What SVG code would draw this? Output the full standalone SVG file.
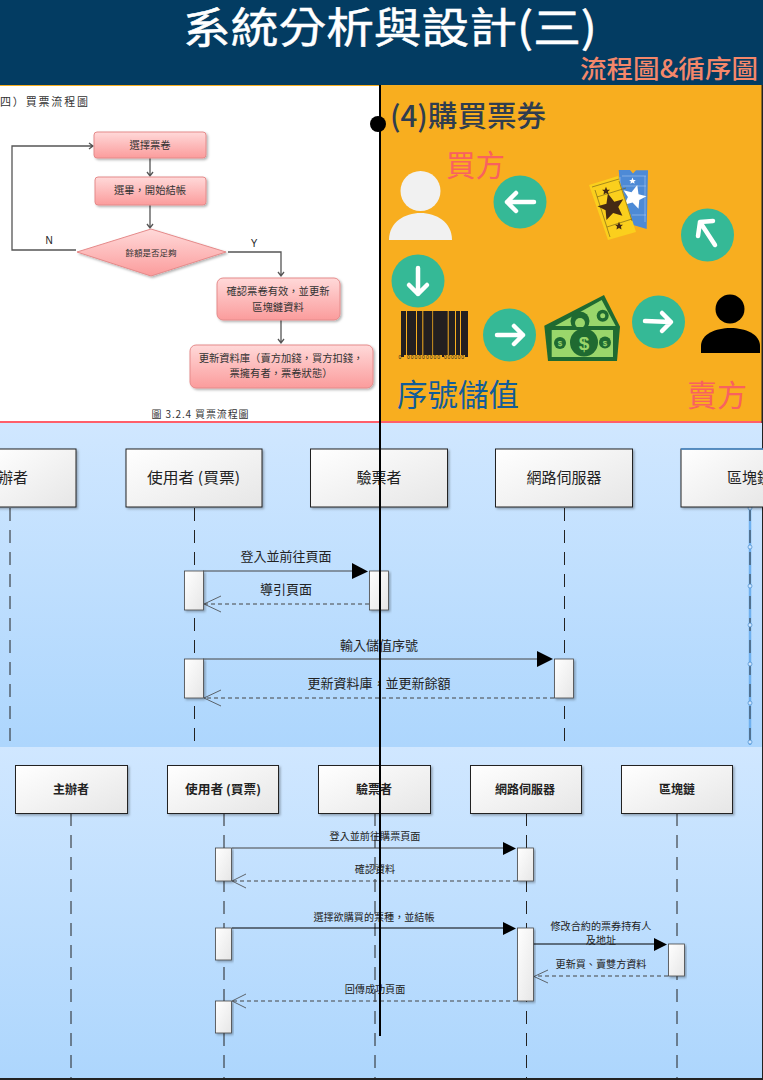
<svg xmlns="http://www.w3.org/2000/svg" width="763" height="1080" viewBox="0 0 763 1080">
<style>
text{font-family:"Liberation Sans","Noto Sans CJK TC",sans-serif}
.cjk{font-family:"Noto Sans CJK TC",sans-serif}
.m{text-anchor:middle}
.ft{font-size:10.300px;fill:#333;text-anchor:middle;font-family:"Noto Sans CJK TC",sans-serif}
.fb{fill:url(#pink);stroke:#e58a8a;stroke-width:1;filter:url(#sh)}
.fl{fill:none;stroke:#555;stroke-width:1.300}
.actor{fill:url(#boxg);stroke:#222;stroke-width:1;filter:url(#sh)}
.a1{font-size:15px;fill:#222;text-anchor:middle;font-family:"Noto Sans CJK TC",sans-serif}
.a2{font-size:12px;font-weight:700;fill:#222;text-anchor:middle;font-family:"Noto Sans CJK TC",sans-serif}
.life{stroke:#222;stroke-width:1;stroke-dasharray:13 9;fill:none}
.act{fill:url(#boxg);stroke:#444;stroke-width:.8;filter:url(#sh)}
.msg{stroke:#444;stroke-width:1;fill:none}
.ret{stroke:#444;stroke-width:1;stroke-dasharray:4 3;fill:none}
.open{stroke:#444;stroke-width:.8;fill:none}
.l1{font-size:13px;fill:#222;text-anchor:middle;font-family:"Noto Sans CJK TC",sans-serif}
.l2{font-size:10.100px;fill:#222;text-anchor:middle;font-family:"Noto Sans CJK TC",sans-serif}
.c{fill:#35b996}
.w{fill:none;stroke:#fff;stroke-width:4.500;stroke-linecap:round;stroke-linejoin:round}
</style>
<defs>
<linearGradient id="pink" x1="0" y1="0" x2="0" y2="1"><stop offset="0" stop-color="#ffd9d9"/><stop offset="1" stop-color="#fb9c9c"/></linearGradient>
<linearGradient id="bg" x1="0" y1="0" x2="0" y2="1"><stop offset="0" stop-color="#d0e7ff"/><stop offset="1" stop-color="#add6fd"/></linearGradient>
<linearGradient id="boxg" x1="0" y1="0" x2="1" y2="1"><stop offset="0" stop-color="#ffffff"/><stop offset="1" stop-color="#e6e6e6"/></linearGradient>
<filter id="sh" x="-10%" y="-10%" width="125%" height="130%"><feDropShadow dx="1.500" dy="1.500" stdDeviation="1.200" flood-color="#000" flood-opacity=".3"/></filter>
<polygon id="star" points="0,-10 2.900,-3.100 9.500,-3.100 4.700,1.200 5.900,8.100 0,4.500 -5.900,8.100 -4.700,1.200 -9.500,-3.100 -2.900,-3.100"/>
</defs>

<rect width="763" height="1080" fill="#fff"/>
<rect id="header" width="763" height="85" fill="#033c62"/>
<text x="390" y="43" class="m cjk" font-size="42" fill="#fff" stroke="#fff" stroke-width=".5" textLength="414" lengthAdjust="spacingAndGlyphs">系統分析與設計(三)</text>
<text x="669" y="78" class="m cjk" font-size="25" font-weight="500" fill="#f4876a" textLength="178" lengthAdjust="spacingAndGlyphs">流程圖&amp;循序圖</text>

<!-- flowchart panel -->
<rect x="0" y="85" width="380" height="336" fill="#fff"/>
<rect x="0" y="85" width="380" height="1" fill="#f8ae1f"/>
<text x="0" y="106" font-size="11" fill="#333" class="cjk" textLength="88" lengthAdjust="spacing">四）買票流程圖</text>
<g id="flow-connectors">
<path class="fl" d="M76 250H12V146H93M89 143l4 3-4 3"/>
<path class="fl" d="M150 158V176M147 172l3 4 3-4"/>
<path class="fl" d="M150 205V228M147 224l3 4 3-4"/>
<path class="fl" d="M228 252H281V276M278 272l3 4 3-4"/>
<path class="fl" d="M281 320V343M278 339l3 4 3-4"/>
</g>
<text x="49" y="244" font-size="10" fill="#222" class="m">N</text>
<text x="254" y="247" font-size="10" fill="#222" class="m">Y</text>
<g id="f1"><rect class="fb" x="94" y="132" width="112" height="26" rx="3"/><text class="ft" x="150" y="149">選擇票卷</text></g>
<g id="f2"><rect class="fb" x="95" y="177" width="111" height="28" rx="3"/><text class="ft" x="150" y="194">選畢，開始結帳</text></g>
<g id="f3"><polygon class="fb" points="77,252 151,229 226,252 151,276"/><text class="ft" x="151" y="256" style="font-size:8.500px">餘額是否足夠</text></g>
<g id="f4"><rect class="fb" x="217" y="278" width="123" height="42" rx="6"/><text class="ft" x="278" y="295">確認票卷有效，並更新</text><text class="ft" x="278" y="311">區塊鏈資料</text></g>
<g id="f5"><rect class="fb" x="190" y="345" width="183" height="43" rx="6"/><text class="ft" x="281" y="362">更新資料庫（賣方加錢，買方扣錢，</text><text class="ft" x="281" y="377">票擁有者，票卷狀態）</text></g>
<text x="200" y="418" font-size="10" fill="#333" class="m cjk" textLength="97" lengthAdjust="spacing">圖 3.2.4 買票流程圖</text>

<!-- orange panel -->
<rect x="381" y="85" width="381" height="336" fill="#f8ae1f"/>
<text x="390" y="127" font-size="29" fill="#2f3d4f" class="cjk" font-weight="500" textLength="156" lengthAdjust="spacingAndGlyphs">(4)購買票券</text>
<text x="446" y="176" font-size="29.500" fill="#f9615f" class="cjk">買方</text>
<text x="687" y="406" font-size="30" fill="#f9615f" class="cjk">賣方</text>
<text x="397" y="406" font-size="30.500" fill="#125d99" class="cjk">序號儲值</text>

<g id="buyer" fill="#f1f1f1"><circle cx="420.500" cy="191" r="20"/><path d="M389 240C389 204 452 204 452 240Z"/></g>
<g id="seller" fill="#000"><circle cx="730" cy="309" r="14.500"/><path d="M701 353V346C701 322 760 322 760 346V353Z"/></g>

<g id="arrow1"><circle class="c" cx="520" cy="202" r="26.500"/><path class="w" d="M534 202H507M516 193l-9 9 9 9"/></g>
<g id="arrow2"><circle class="c" cx="707.500" cy="235" r="26.500"/><path class="w" d="M715 245L700 222M698 236l2-14 13-1"/></g>
<g id="arrow3"><circle class="c" cx="418" cy="281" r="26.500"/><path class="w" d="M418 268V294M409 285l9 9 9-9"/></g>
<g id="arrow4"><circle class="c" cx="509.500" cy="335" r="26.500"/><path class="w" d="M497 335H523M514 326l9 9-9 9"/></g>
<g id="arrow5"><circle class="c" cx="658.500" cy="322" r="26.500"/><path class="w" d="M645 321L671 322M662 313l9 9-9 9"/></g>

<g id="barcode">
<rect x="401" y="311" width="67" height="44" fill="#231f20"/>
<rect x="401" y="355" width="3" height="2" fill="#231f20"/><rect x="442" y="355" width="2" height="2" fill="#231f20"/><rect x="465" y="355" width="3" height="2" fill="#231f20"/>
<g fill="#f8ae1f"><rect x="406" y="311" width="1" height="46"/><rect x="416" y="311" width="1" height="46"/><rect x="422.300" y="311" width="1" height="46"/><rect x="432.300" y="311" width=".8" height="46"/><rect x="447.700" y="311" width="1" height="46"/><rect x="455" y="311" width="1" height="46"/><rect x="460" y="311" width="1" height="46"/></g>
<text y="359" font-size="5" fill="#231f20" font-family="Liberation Sans"><tspan x="398.500">0</tspan><tspan x="407" textLength="33">000000000</tspan><tspan x="444" textLength="20">000000</tspan></text>
</g>

<g id="tickets">
<path d="M618.700 170H630L633 173.500 636 170.300H648L646.700 229 623 222Z" fill="#4d8ad6"/>
<path d="M622 176H646M622.500 186H646M632 215H646M620 177V200M645 176V222" stroke="#a9c8ef" stroke-width=".6" fill="none"/>
<use href="#star" transform="translate(634 197) rotate(15) scale(1.250)" fill="#fff"/>
<use href="#star" transform="translate(632.500 181) scale(.35)" fill="#fff"/>
<path d="M589 185L618 176 636 232 608 240Z" fill="#fbcf1d"/>
<path d="M592 187l27-8M597 197l29-9M607 227l25-8M595 190l15 47M619 181l13 40" stroke="#6b5a1a" stroke-width=".6" fill="none"/>
<use href="#star" transform="translate(611.500 207) rotate(-15) scale(1.400)" fill="#452a14"/>
<use href="#star" transform="translate(606 191) scale(.42)" fill="#452a14"/>
<use href="#star" transform="translate(619 226) scale(.42)" fill="#452a14"/>
</g>

<g id="money">
<path d="M544.300 325.700L604 295 620 326.700 617 361 548 361Z" fill="#1f6a31"/>
<path d="M555 326L601.700 300 615.700 326Z" fill="#9ad66b"/>
<circle cx="580" cy="321" r="9.500" fill="#1f6a31"/><circle cx="580" cy="323" r="5" fill="#9ad66b"/><circle cx="602.700" cy="315.700" r="6" fill="#1f6a31"/><circle cx="602.700" cy="315.700" r="2.500" fill="#9ad66b"/>
<rect x="548" y="327" width="69" height="34" fill="#1f6a31"/>
<rect x="551.700" y="330" width="61.300" height="27" fill="#9ad66b"/>
<circle cx="584" cy="342.500" r="14" fill="#1f6a31"/><circle cx="560" cy="343" r="6" fill="#1f6a31"/><circle cx="605" cy="342.500" r="6" fill="#1f6a31"/>
<text x="584" y="349.500" font-size="19" font-weight="700" fill="#9ad66b" text-anchor="middle">$</text>
<text x="560" y="346" font-size="8" font-weight="700" fill="#9ad66b" text-anchor="middle">$</text>
<text x="605" y="345.500" font-size="8" font-weight="700" fill="#9ad66b" text-anchor="middle">$</text>
</g>

<rect x="0" y="421" width="763" height="2.500" fill="#ff5f6a"/>
<rect x="761.500" y="85" width="1.500" height="995" fill="#222"/>

<!-- sequence 1 -->
<rect x="0" y="423" width="762" height="324" fill="url(#bg)"/>
<g id="seq1-lifelines">
<path class="life" d="M10 508V747M194.500 508V747M564.500 508V747"/>
<path d="M750 508V745" stroke="#6fb0ef" stroke-width="2.500"/>
<path d="M750 508V745" stroke="#333" stroke-width="1" stroke-dasharray="13 9"/>
<g fill="#cfe6ff" stroke="#4a8fd0" stroke-width=".7"><circle cx="750" cy="508" r="2"/><circle cx="750" cy="547" r="2"/><circle cx="750" cy="586" r="2"/><circle cx="750" cy="625" r="2"/><circle cx="750" cy="664" r="2"/><circle cx="750" cy="703" r="2"/><circle cx="750" cy="742" r="2"/></g>
</g>
<g id="s1-a0"><rect class="actor" x="-10" y="449" width="86" height="58"/><text class="a1" x="13" y="483">辦者</text></g>
<g id="s1-a1"><rect class="actor" x="126" y="449" width="136" height="58"/><text class="a1" x="193.500" y="483" textLength="93" lengthAdjust="spacingAndGlyphs">使用者 (買票)</text></g>
<g id="s1-a2"><rect class="actor" x="310.500" y="449" width="137" height="58"/><text class="a1" x="379" y="483">驗票者</text></g>
<g id="s1-a3"><rect class="actor" x="495.500" y="449" width="137" height="58"/><text class="a1" x="564" y="483">網路伺服器</text></g>
<g id="s1-a4"><rect class="actor" x="681" y="449" width="90" height="58" stroke-width="1.500"/><path d="M681 449H763" stroke="#4a8fd0" stroke-width="1.500"/><text class="a1" x="749.500" y="483">區塊鏈</text></g>
<g id="seq1-connectors">
<path class="msg" d="M203 571H352"/><polygon points="352,563 368,571.500 352,579" fill="#000"/>
<path class="ret" d="M369 604H205" stroke-width="1.200"/><path class="open" d="M221 596L204 604 221 612"/>
<path class="msg" d="M203 659H537"/><polygon points="537,651 553,659 537,667" fill="#000"/>
<path class="ret" d="M554 698H205"/><path class="open" d="M221 690L204 698 221 706"/>
</g>
<rect class="act" x="184.500" y="571" width="19" height="39"/><rect class="act" x="369.500" y="571" width="19" height="39"/>
<rect class="act" x="184.500" y="659" width="19" height="39"/><rect class="act" x="554.500" y="659" width="19" height="39"/>
<text class="l1" x="286" y="561">登入並前往頁面</text>
<text class="l1" x="286" y="594">導引頁面</text>
<text class="l1" x="379" y="650">輸入儲值序號</text>
<text class="l1" x="379" y="688">更新資料庫，並更新餘額</text>

<!-- sequence 2 -->
<rect x="0" y="747" width="762" height="331" fill="url(#bg)"/>
<g id="seq2-lifelines"><path class="life" d="M71 813V1078M224 813V1078M375 813V1078M526.500 813V1078M677 813V1078"/></g>
<g id="s2-a0"><rect class="actor" x="15.500" y="765.500" width="112" height="48"/><text class="a2" x="71" y="794">主辦者</text></g>
<g id="s2-a1"><rect class="actor" x="167.500" y="765.500" width="111" height="48"/><text class="a2" x="223" y="794" textLength="76" lengthAdjust="spacingAndGlyphs">使用者 (買票)</text></g>
<g id="s2-a2"><rect class="actor" x="318.500" y="765.500" width="112" height="48"/><text class="a2" x="374" y="794">驗票者</text></g>
<g id="s2-a3"><rect class="actor" x="470.500" y="765.500" width="111" height="48"/><text class="a2" x="525" y="794">網路伺服器</text></g>
<g id="s2-a4"><rect class="actor" x="621.500" y="765.500" width="111" height="48"/><text class="a2" x="677" y="794">區塊鏈</text></g>
<g id="seq2-connectors">
<path class="msg" d="M232 848H503"/><polygon points="503,842 516,848.500 503,855" fill="#000"/>
<path class="ret" d="M517 881H233"/><path class="open" d="M246 874L232 881 246 888"/>
<path class="msg" d="M232 928H503" style="stroke:#000"/><polygon points="503,922 516,928.500 503,935" fill="#000"/>
<path class="msg" d="M533 944H654" style="stroke:#000"/><polygon points="654,938 667,944.500 654,951" fill="#000"/>
<path class="ret" d="M668 976H535"/><path class="open" d="M548 970L534 976.500 548 983"/>
<path class="ret" d="M517 1001H233"/><path class="open" d="M246 994L232 1001 246 1008"/>
</g>
<rect class="act" x="215.500" y="848" width="16" height="33"/><rect class="act" x="517.500" y="848" width="16" height="33"/>
<rect class="act" x="215.500" y="928" width="16" height="32"/><rect class="act" x="517.500" y="928" width="16" height="73"/>
<rect class="act" x="668.500" y="944" width="16" height="32"/><rect class="act" x="215.500" y="1001" width="16" height="32"/>
<text class="l2" x="375" y="840">登入並前往購票頁面</text>
<text class="l2" x="375" y="873">確認資料</text>
<text class="l2" x="374" y="921">選擇欲購買的票種，並結帳</text>
<text class="l2" x="601" y="930">修改合約的票券持有人</text>
<text class="l2" x="601" y="943.500">及地址</text>
<text class="l2" x="601" y="968">更新買、賣雙方資料</text>
<text class="l2" x="375" y="993">回傳成功頁面</text>

<rect x="0" y="1078" width="763" height="2" fill="#222"/>
<g id="divider"><path d="M380 85V1036" stroke="#000" stroke-width="2"/><circle cx="378" cy="124" r="8" fill="#000"/></g>
</svg>
